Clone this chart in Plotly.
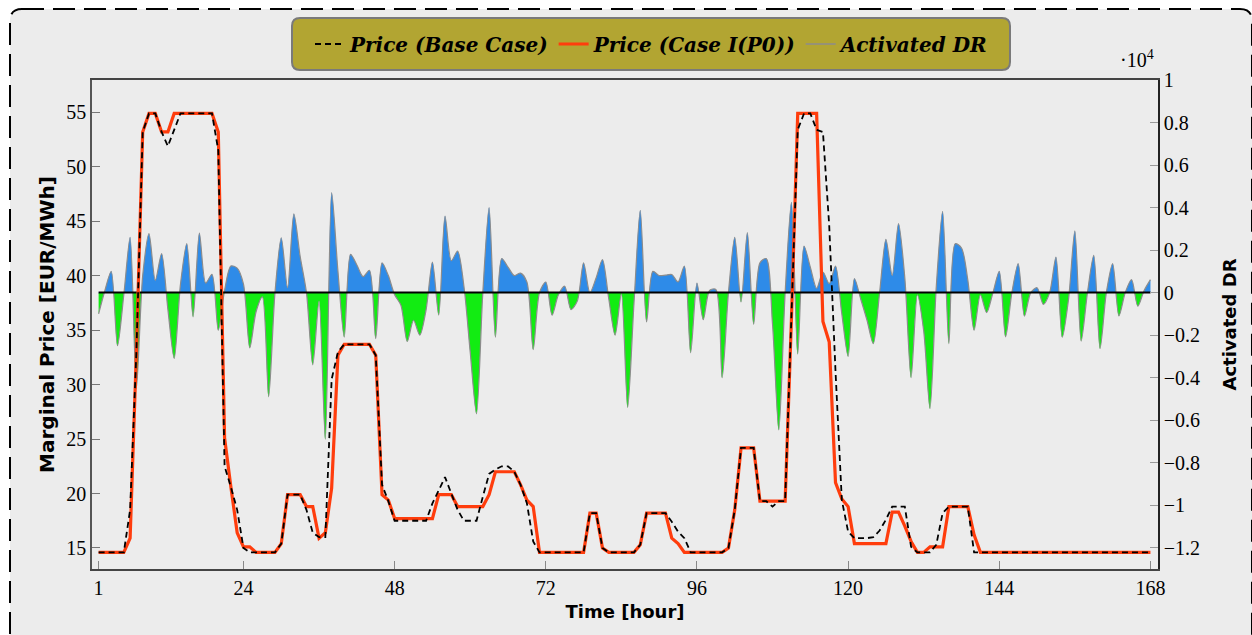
import plotly.graph_objects as go

# ---------------- data ----------------
hours = list(range(1, 169))

price_base = [
    14.6, 14.6, 14.6, 14.6, 14.6, 18.5, 33.0, 53.2, 54.9, 54.9, 53.2, 51.9,
    53.4, 54.9, 54.9, 54.9, 54.9, 54.9, 54.9, 51.5, 22.5, 20.6, 18.5, 15.0,
    14.6, 14.6, 14.6, 14.6, 14.6, 15.4, 19.9, 19.9, 19.9, 18.5, 16.4, 16.0,
    16.0, 30.5, 33.0, 33.7, 33.7, 33.7, 33.7, 33.7, 32.7, 20.8, 19.3, 17.5,
    17.5, 17.5, 17.5, 17.5, 17.5, 19.1, 20.3, 21.5, 20.0, 18.5, 17.5, 17.5,
    17.5, 19.7, 21.8, 22.2, 22.5, 22.5, 22.0, 20.8, 19.1, 15.6, 14.6, 14.6,
    14.6, 14.6, 14.6, 14.6, 14.6, 14.6, 18.2, 18.2, 15.0, 14.6, 14.6, 14.6,
    14.6, 14.6, 15.3, 18.2, 18.2, 18.2, 18.2, 17.4, 16.5, 15.9, 14.6, 14.6,
    14.6, 14.6, 14.6, 14.6, 15.0, 18.5, 24.2, 24.2, 24.2, 19.3, 19.3, 18.8,
    19.3, 19.3, 36.0, 53.4, 54.9, 54.9, 53.4, 53.2, 44.6, 31.2, 19.4, 16.5,
    15.9, 15.9, 15.9, 16.0, 16.6, 17.6, 18.8, 18.8, 18.8, 15.1, 14.6, 14.6,
    14.6, 15.3, 18.2, 18.8, 18.8, 18.8, 18.8, 14.6, 14.6, 14.6, 14.6, 14.6,
    14.6, 14.6, 14.6, 14.6, 14.6, 14.6, 14.6, 14.6, 14.6, 14.6, 14.6, 14.6,
    14.6, 14.6, 14.6, 14.6, 14.6, 14.6, 14.6, 14.6, 14.6, 14.6, 14.6, 14.6,
]

price_case1 = [
    14.6, 14.6, 14.6, 14.6, 14.6, 15.9, 33.0, 53.2, 54.9, 54.9, 53.2, 53.2,
    54.9, 54.9, 54.9, 54.9, 54.9, 54.9, 54.9, 53.2, 25.1, 20.6, 16.4, 15.1,
    15.1, 14.6, 14.6, 14.6, 14.6, 15.4, 19.9, 19.9, 19.9, 18.8, 18.8, 15.9,
    16.4, 20.5, 32.7, 33.7, 33.7, 33.7, 33.7, 33.7, 32.7, 19.9, 19.4, 17.7,
    17.7, 17.7, 17.7, 17.7, 17.7, 17.7, 19.9, 19.9, 19.9, 18.8, 18.8, 18.8,
    18.8, 18.8, 19.9, 22.0, 22.0, 22.0, 22.0, 20.8, 19.4, 18.8, 14.6, 14.6,
    14.6, 14.6, 14.6, 14.6, 14.6, 14.6, 18.2, 18.2, 15.0, 14.6, 14.6, 14.6,
    14.6, 14.6, 15.3, 18.2, 18.2, 18.2, 18.2, 15.9, 15.4, 14.6, 14.6, 14.6,
    14.6, 14.6, 14.6, 14.6, 15.0, 18.5, 24.2, 24.2, 24.2, 19.3, 19.3, 19.3,
    19.3, 19.3, 36.0, 54.9, 54.9, 54.9, 54.9, 35.8, 33.9, 21.0, 19.5, 18.8,
    15.4, 15.4, 15.4, 15.4, 15.4, 15.4, 18.3, 18.3, 17.0, 15.6, 14.6, 14.6,
    15.1, 15.1, 15.1, 18.8, 18.8, 18.8, 18.8, 16.2, 14.6, 14.6, 14.6, 14.6,
    14.6, 14.6, 14.6, 14.6, 14.6, 14.6, 14.6, 14.6, 14.6, 14.6, 14.6, 14.6,
    14.6, 14.6, 14.6, 14.6, 14.6, 14.6, 14.6, 14.6, 14.6, 14.6, 14.6, 14.6,
]

activated_dr = [
    -1000, 100, 1000, -2500, -100, 2600, -4500, 800, 2770, 580, 1830, -800,
    -3100, 400, 2300, -1140, 2800, 450, 860, -1770, 100, 1250, 1150, 400,
    -2600, -900, -200, -4900, 0, 2580, 230, 3700, 1700, 0, -3400, -400,
    -6900, 4700, 1000, -2100, 1800, 1300, 750, 1050, -2160, 1400, 800, -100,
    -600, -2300, -1300, -2000, -800, 1440, -1060, 3600, 1500, 1950, 300, -2800,
    -5700, 0, 4000, -2100, 1600, 1200, 800, 920, 500, -2680, 0, 500,
    -1060, -100, 300, -800, -400, 1400, 0, 700, 1550, -300, -2000, -50,
    -5400, -500, 3870, -1380, 1000, 800, 820, 850, 500, 1250, -2830, 450,
    -1270, 100, 150, -4000, 0, 2600, -440, 2820, -1490, 1400, 1600, -1500,
    -6460, 0, 4250, -2890, 2190, 1200, 200, 970, 420, 1250, -1000, -3000,
    660, -300, -1300, -2400, 0, 2500, 810, 3240, 700, -4000, -100, -1800,
    -5450, 300, 3820, -2400, 2300, 2100, 600, -1770, -100, -940, 0, 1000,
    -2080, 0, 1360, -1110, 0, 230, -550, 0, 1670, -2100, -300, 2900,
    -2280, 0, 1750, -2630, 0, 1360, -1100, 0, 610, -640, 100, 610,
]

x_ticks = [1, 24, 48, 72, 96, 120, 144, 168]
price_ticks = [15, 20, 25, 30, 35, 40, 45, 50, 55]
dr_ticks = [-12000, -10000, -8000, -6000, -4000, -2000, 0, 2000, 4000, 6000, 8000, 10000]
dr_ticktext = ["\u22121.2", "\u22121", "\u22120.8", "\u22120.6", "\u22120.4", "\u22120.2",
               "0", "0.2", "0.4", "0.6", "0.8", "1"]

# ---------------- styling ----------------
BLUE = "#2e8be8"
GREEN = "#12ec12"
RED = "#ff3d0d"
SERIF = "Liberation Serif"
LEG_SERIF = "DejaVu Serif"
SANS = "DejaVu Sans"

W, H = 1252, 635
L, R, T, B = 92, 1158, 80, 569  # plot area in pixels

DR_MIN, DR_MAX = -13000, 10000
P_MIN, P_MAX = 13.07, 57.97
X_MIN, X_MAX = -0.05, 169.2


def px2x(px):
    return (px - L) / (R - L)


def px2y(py):
    return (B - py) / (B - T)


def rounded_path(x0, y0, x1, y1, r):
    pts = [
        ("M", x0 + r, y0), ("L", x1 - r, y0), ("Q", x1, y0, x1, y0 + r),
        ("L", x1, y1 - r), ("Q", x1, y1, x1 - r, y1), ("L", x0 + r, y1),
        ("Q", x0, y1, x0, y1 - r), ("L", x0, y0 + r), ("Q", x0, y0, x0 + r, y0),
    ]
    s = ""
    for p in pts:
        cmd = p[0]
        coords = p[1:]
        parts = []
        for i in range(0, len(coords), 2):
            parts.append(f"{px2x(coords[i]):.5f},{px2y(coords[i+1]):.5f}")
        s += cmd + " ".join(parts) + " "
    return s + "Z"


fig = go.Figure()

zero_frac = (0 - DR_MIN) / (DR_MAX - DR_MIN)

# Activated DR area (blue above zero, green below) on the right axis
fig.add_trace(go.Scatter(
    x=hours, y=activated_dr, mode="lines", yaxis="y",
    line=dict(color="#8c8c8c", width=1.2, shape="spline", smoothing=0.8),
    fill="tozeroy",
    fillgradient=dict(type="vertical",
                      colorscale=[[0, GREEN], [zero_frac, GREEN], [zero_frac, BLUE], [1, BLUE]],
                      start=DR_MIN, stop=DR_MAX),
    showlegend=False, hoverinfo="skip",
))

# zero line of the DR axis
fig.add_trace(go.Scatter(
    x=[hours[0], hours[-1]], y=[0, 0], mode="lines", yaxis="y",
    line=dict(color="black", width=2), showlegend=False, hoverinfo="skip",
))

# prices on the left axis
fig.add_trace(go.Scatter(
    x=hours, y=price_case1, mode="lines", yaxis="y2",
    name="<b><i>Price (Case I(P0))</i></b>", legendrank=2,
    line=dict(color=RED, width=3.2),
))
fig.add_trace(go.Scatter(
    x=hours, y=price_base, mode="lines", yaxis="y2",
    name="<b><i>Price (Base Case)</i></b>", legendrank=1,
    line=dict(color="black", width=1.8, dash="6px,4px"),
))
# legend entry for the DR series
fig.add_trace(go.Scatter(
    x=[None], y=[None], mode="lines", yaxis="y2",
    name="<b><i>Activated DR</i></b>", legendrank=3,
    line=dict(color="#8c8c8c", width=1.5),
))

shapes = [
    dict(type="path", xref="paper", yref="paper", layer="below",
         path=rounded_path(10, 9, 1252, 720, 12),
         fillcolor="#ececec", line=dict(color="black", width=2, dash="22px,9px")),
    dict(type="path", xref="paper", yref="paper", layer="below",
         path=rounded_path(292, 18, 1010, 70, 8),
         fillcolor="#b2a532", line=dict(color="#7a7a7a", width=2)),
]

fig.update_layout(
    width=W, height=H,
    margin=dict(l=L, r=W - R, t=T, b=H - B, pad=0),
    paper_bgcolor="white",
    plot_bgcolor="rgba(0,0,0,0)",
    shapes=shapes,
    showlegend=True,
    legend=dict(orientation="h", x=px2x(652), xanchor="center",
                y=px2y(44), yanchor="middle",
                bgcolor="rgba(0,0,0,0)", borderwidth=0,
                font=dict(family=LEG_SERIF, size=20, color="black"),
                itemwidth=30, tracegroupgap=0),
    xaxis=dict(
        range=[X_MIN, X_MAX], tickvals=x_ticks, ticktext=[str(t) for t in x_ticks],
        ticks="inside", ticklen=8, tickcolor="#888", tickwidth=1,
        showline=True, linecolor="#444", linewidth=1.5, mirror=True,
        showgrid=False, zeroline=False,
        tickfont=dict(family=SERIF, size=20, color="black"),
        title=dict(text="<b>Time [hour]</b>", font=dict(family=SANS, size=18, color="black"),
                   standoff=8),
    ),
    yaxis=dict(
        side="right", range=[DR_MIN, DR_MAX], tickvals=dr_ticks, ticktext=dr_ticktext,
        ticks="inside", ticklen=8, tickcolor="#999", tickwidth=1,
        showline=True, linecolor="#222", linewidth=1.5,
        showgrid=False, zeroline=False,
        tickfont=dict(family=SERIF, size=20, color="black"),
        title=dict(text="<b>Activated DR</b>", font=dict(family=SANS, size=18, color="black"),
                   standoff=24),
    ),
    yaxis2=dict(
        side="left", overlaying="y", range=[P_MIN, P_MAX], tickvals=price_ticks,
        ticks="inside", ticklen=8, tickcolor="#777", tickwidth=1,
        showline=True, linecolor="#555", linewidth=1.5,
        showgrid=False, zeroline=False,
        tickfont=dict(family=SERIF, size=20, color="black"),
        title=dict(text="<b>Marginal Price [EUR/MWh]</b>",
                   font=dict(family=SANS, size=20, color="black"), standoff=6),
    ),
    annotations=[
        dict(text="\u00b710<sup>4</sup>", xref="paper", yref="paper",
             x=px2x(1137), y=px2y(59), xanchor="center", yanchor="middle",
             showarrow=False, font=dict(family=SERIF, size=20, color="black")),
    ],
)

fig.write_html("out.html", config={"displayModeBar": False},
               post_script="document.body.style.margin='0';document.body.style.overflow='hidden';")
